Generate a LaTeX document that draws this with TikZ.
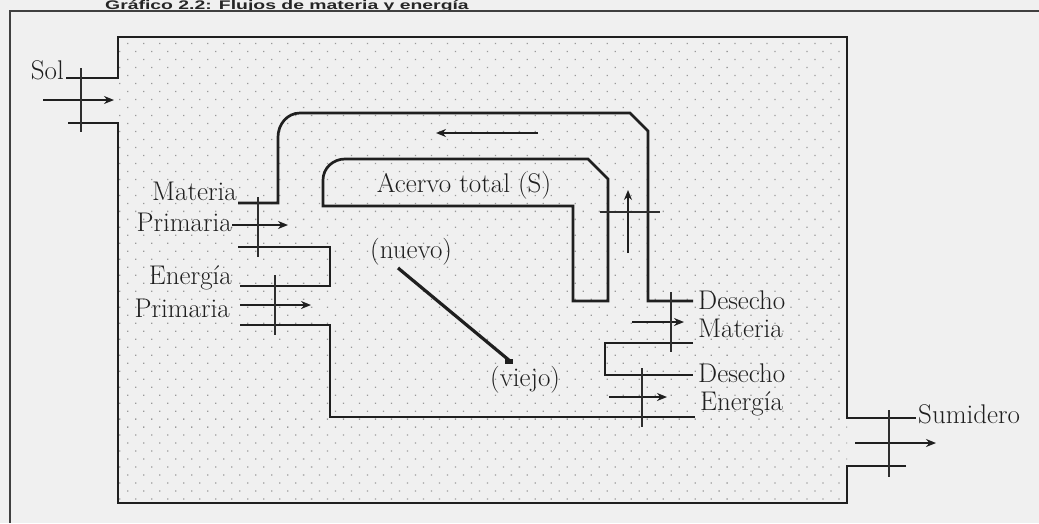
\documentclass[tikz,border=0pt]{standalone}
\usepackage{fontspec}
\newfontfamily\titlefont{Liberation Sans}
\usetikzlibrary{patterns.meta,arrows.meta}
\begin{document}
\begin{tikzpicture}[x=1pt,y=-1pt,
  wall/.style={line width=2.7pt, line join=miter, black!88},
  flow/.style={line width=2.9pt, black!88, -{Stealth[length=10pt,width=8pt]}},
  crossbar/.style={line width=1.4pt, black!82},
  lbl/.style={font=\fontsize{27}{32}\selectfont, inner sep=0pt, text=black!88},
]
\useasboundingbox (0,0) rectangle (1039,523);
\clip (0,0) rectangle (1039,523);
\fill[black!6] (0,0) rectangle (1039,523);
\node[font=\titlefont\bfseries\fontsize{12.5}{14}\selectfont, anchor=base west, inner sep=0pt, text=black!85] (title) at (105,9.3) {\scalebox{1.55}[1]{Gráfico 2.2: Flujos de materia y energía}};
\draw[line width=2pt, black!75] (1039,11) -- (10,11) -- (10,523);
% dotted system area
\fill[pattern={Dots[distance=11.3pt,radius=0.9pt,angle=45]}, pattern color=black!40] (118,37) rectangle (847,503);

% labels
\node[lbl, anchor=base east] (sol) at (64,79) {Sol};
\node[lbl, anchor=base east] (mat1) at (237,200) {Materia};
\node[lbl, anchor=base east] (pri1) at (232,231) {Primaria};
\node[lbl, anchor=base east] (ene1) at (232,284) {Energía};
\node[lbl, anchor=base east] (pri2) at (230,317) {Primaria};
\node[lbl, anchor=base] (acervo) at (464,192) {Acervo total (S)};
\node[lbl, anchor=base west] (nuevo) at (370,258) {(nuevo)};
\node[lbl, anchor=base west] (viejo) at (490,386) {(viejo)};
\node[lbl, anchor=base west] (des1) at (698,309) {Desecho};
\node[lbl, anchor=base west] (mat2) at (698,337) {Materia};
\node[lbl, anchor=base west] (des2) at (698,382) {Desecho};
\node[lbl, anchor=base west] (ene2) at (700,410) {Energía};
\node[lbl, anchor=base west] (sum) at (918,423) {Sumidero};

% system boundary
\draw[wall] (66,78) -- (118,78) -- (118,37) -- (847,37) -- (847,418) -- (916,418);
\draw[wall] (906,466) -- (847,466) -- (847,503) -- (118,503) -- (118,123) -- (68,123);
% recycling loop
\draw[wall] (238,203) -- (278,203) -- (278,137) to[out=90,in=180] (300,113) -- (630,113) -- (648,131) -- (648,301) -- (693,301);
% stock (acervo)
\draw[wall] (323,206) -- (323,180) to[out=90,in=180] (345,159) -- (588,159) -- (608,179) -- (608,301) -- (573,301) -- (573,206) -- cycle;
% inflow channels
\draw[wall] (238,247) -- (330,247) -- (330,286) -- (240,286);
\draw[wall] (240,325) -- (330,325) -- (330,417) -- (695,417);
% outflow channel
\draw[wall] (693,343) -- (605,343) -- (605,375) -- (693,375);

% flow arrows
\coordinate (solA) at (43,100);   \coordinate (solB) at (114,100);
\coordinate (mpA) at (232,225);   \coordinate (mpB) at (288,225);
\coordinate (epA) at (240,305);   \coordinate (epB) at (311,305);
\coordinate (recA) at (538,133);  \coordinate (recB) at (436,133);
\coordinate (upA) at (628,253);   \coordinate (upB) at (628,190);
\coordinate (dmA) at (632,322);   \coordinate (dmB) at (684,322);
\coordinate (deA) at (609,397);   \coordinate (deB) at (667,397);
\coordinate (sumA) at (855,443);  \coordinate (sumB) at (936,443);
\draw[flow] (solA) -- (solB);
\draw[flow] (mpA) -- (mpB);
\draw[flow] (epA) -- (epB);
\draw[flow] (recA) -- (recB);
\draw[flow] (upA) -- (upB);
\draw[flow] (dmA) -- (dmB);
\draw[flow] (deA) -- (deB);
\draw[flow] (sumA) -- (sumB);
% aging line
\coordinate (nv) at (398,268); \coordinate (vj) at (510,361);
\draw[line width=3.2pt, black!88] (nv) -- (vj);
\fill[black!88] (vj) ++(-5,-2) rectangle ++(8,5);

% crossbars
\draw[crossbar] (81,68) -- (81,132);
\draw[crossbar] (258,197) -- (258,257);
\draw[crossbar] (275,275) -- (275,335);
\draw[crossbar] (600,212) -- (660,212);
\draw[crossbar] (671,292) -- (671,352);
\draw[crossbar] (642,368) -- (642,427);
\draw[crossbar] (889,410) -- (889,477);
\end{tikzpicture}
\end{document}
